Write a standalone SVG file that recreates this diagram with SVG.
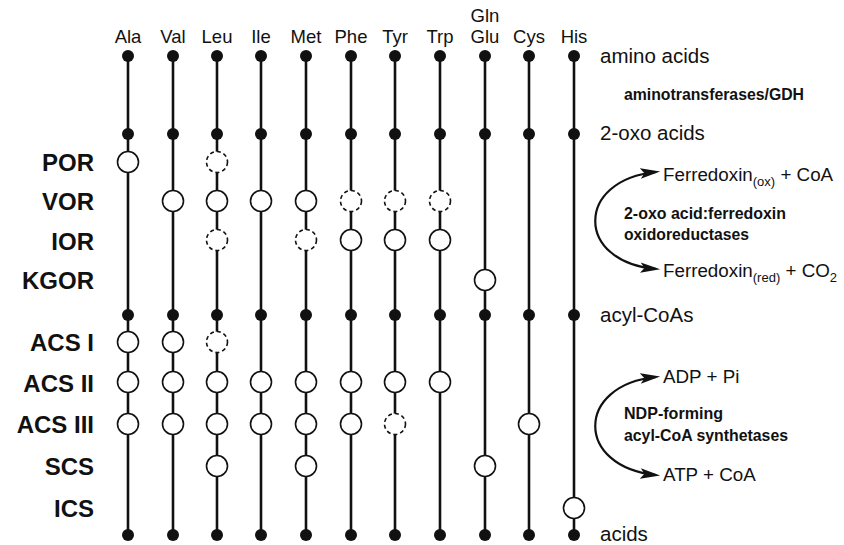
<svg xmlns="http://www.w3.org/2000/svg" width="844" height="545" viewBox="0 0 844 545">
<style>
text{font-family:"Liberation Sans",Arial,sans-serif;fill:#111}
.aa{font-size:18.5px;text-anchor:middle}
.enz{font-size:24px;font-weight:bold;text-anchor:end}
.st{font-size:20.5px}
.rx{font-size:18.8px}
.sub{font-size:13px}
.bd{font-size:17px;font-weight:bold}
.ln{stroke:#111;stroke-width:2.6;fill:none}
.dot{fill:#111}
.c{fill:#fff;stroke:#111;stroke-width:1.6}
.d{fill:#fff;stroke:#111;stroke-width:1.6;stroke-dasharray:4 3}
.arc{stroke:#111;stroke-width:2.2;fill:none;marker-start:url(#ah);marker-end:url(#ah)}
</style>
<defs>
<marker id="ah" markerUnits="userSpaceOnUse" markerWidth="20" markerHeight="12" refX="15" refY="5" orient="auto-start-reverse" viewBox="0 0 19 10">
<path d="M0,0 L19,5 L0,10 L4,5 z" fill="#111"/>
</marker>
</defs>

<g id="column-labels">
<text class="aa" x="128" y="43">Ala</text>
<text class="aa" x="173" y="43">Val</text>
<text class="aa" x="217" y="43">Leu</text>
<text class="aa" x="261" y="43">Ile</text>
<text class="aa" x="306" y="43">Met</text>
<text class="aa" x="351" y="43">Phe</text>
<text class="aa" x="395" y="43">Tyr</text>
<text class="aa" x="440" y="43">Trp</text>
<text class="aa" x="485" y="22">Gln</text>
<text class="aa" x="485" y="43">Glu</text>
<text class="aa" x="529" y="43">Cys</text>
<text class="aa" x="574" y="43">His</text>
</g>

<g id="enzyme-labels">
<text class="enz" x="94" y="171">POR</text>
<text class="enz" x="94" y="210">VOR</text>
<text class="enz" x="94" y="250">IOR</text>
<text class="enz" x="94" y="289">KGOR</text>
<text class="enz" x="94" y="351">ACS I</text>
<text class="enz" x="94" y="392">ACS II</text>
<text class="enz" x="94" y="433">ACS III</text>
<text class="enz" x="94" y="475">SCS</text>
<text class="enz" x="94" y="517">ICS</text>
</g>

<g id="connectors">
<path class="ln" d="M128 56V535M173 56V535M217 56V535M261 56V535M306 56V535M351 56V535M395 56V535M440 56V535M485 56V535M529 56V535M574 56V535"/>
<path class="arc" d="M656 172 C575 180,575 262,656 269"/>
<path class="arc" d="M656 377 C575 385,575 467,656 475"/>
</g>

<g id="row-amino-acids">
<g class="dot">
<circle cx="128" cy="56" r="6"/><circle cx="173" cy="56" r="6"/><circle cx="217" cy="56" r="6"/><circle cx="261" cy="56" r="6"/><circle cx="306" cy="56" r="6"/><circle cx="351" cy="56" r="6"/><circle cx="395" cy="56" r="6"/><circle cx="440" cy="56" r="6"/><circle cx="485" cy="56" r="6"/><circle cx="529" cy="56" r="6"/><circle cx="574" cy="56" r="6"/>
</g>
<text class="st" x="600" y="63">amino acids</text>
</g>

<g id="row-oxo-acids">
<g class="dot">
<circle cx="128" cy="134" r="6"/><circle cx="173" cy="134" r="6"/><circle cx="217" cy="134" r="6"/><circle cx="261" cy="134" r="6"/><circle cx="306" cy="134" r="6"/><circle cx="351" cy="134" r="6"/><circle cx="395" cy="134" r="6"/><circle cx="440" cy="134" r="6"/><circle cx="485" cy="134" r="6"/><circle cx="529" cy="134" r="6"/><circle cx="574" cy="134" r="6"/>
</g>
<text class="st" x="600" y="140">2-oxo acids</text>
</g>

<g id="row-acyl-coas">
<g class="dot">
<circle cx="128" cy="315" r="6"/><circle cx="173" cy="315" r="6"/><circle cx="217" cy="315" r="6"/><circle cx="261" cy="315" r="6"/><circle cx="306" cy="315" r="6"/><circle cx="351" cy="315" r="6"/><circle cx="395" cy="315" r="6"/><circle cx="440" cy="315" r="6"/><circle cx="485" cy="315" r="6"/><circle cx="529" cy="315" r="6"/><circle cx="574" cy="315" r="6"/>
</g>
<text class="st" x="600" y="322">acyl-CoAs</text>
</g>

<g id="row-acids">
<g class="dot">
<circle cx="128" cy="535" r="6"/><circle cx="173" cy="535" r="6"/><circle cx="217" cy="535" r="6"/><circle cx="261" cy="535" r="6"/><circle cx="306" cy="535" r="6"/><circle cx="351" cy="535" r="6"/><circle cx="395" cy="535" r="6"/><circle cx="440" cy="535" r="6"/><circle cx="485" cy="535" r="6"/><circle cx="529" cy="535" r="6"/><circle cx="574" cy="535" r="6"/>
</g>
<text class="st" x="600" y="541">acids</text>
</g>

<g id="POR"><circle class="c" cx="128" cy="162" r="10.5"/><circle class="d" cx="217" cy="162" r="10.5"/></g>
<g id="VOR"><circle class="c" cx="173" cy="201" r="10.5"/><circle class="c" cx="217" cy="201" r="10.5"/><circle class="c" cx="261" cy="201" r="10.5"/><circle class="c" cx="306" cy="201" r="10.5"/><circle class="d" cx="351" cy="201" r="10.5"/><circle class="d" cx="395" cy="201" r="10.5"/><circle class="d" cx="440" cy="201" r="10.5"/></g>
<g id="IOR"><circle class="d" cx="217" cy="240" r="10.5"/><circle class="d" cx="306" cy="240" r="10.5"/><circle class="c" cx="351" cy="240" r="10.5"/><circle class="c" cx="395" cy="240" r="10.5"/><circle class="c" cx="440" cy="240" r="10.5"/></g>
<g id="KGOR"><circle class="c" cx="485" cy="280" r="10.5"/></g>
<g id="ACSI"><circle class="c" cx="128" cy="342" r="10.5"/><circle class="c" cx="173" cy="342" r="10.5"/><circle class="d" cx="217" cy="342" r="10.5"/></g>
<g id="ACSII"><circle class="c" cx="128" cy="382" r="10.5"/><circle class="c" cx="173" cy="382" r="10.5"/><circle class="c" cx="217" cy="382" r="10.5"/><circle class="c" cx="261" cy="382" r="10.5"/><circle class="c" cx="306" cy="382" r="10.5"/><circle class="c" cx="351" cy="382" r="10.5"/><circle class="c" cx="395" cy="382" r="10.5"/><circle class="c" cx="440" cy="382" r="10.5"/></g>
<g id="ACSIII"><circle class="c" cx="128" cy="424" r="10.5"/><circle class="c" cx="173" cy="424" r="10.5"/><circle class="c" cx="217" cy="424" r="10.5"/><circle class="c" cx="261" cy="424" r="10.5"/><circle class="c" cx="306" cy="424" r="10.5"/><circle class="c" cx="351" cy="424" r="10.5"/><circle class="d" cx="395" cy="424" r="10.5"/><circle class="c" cx="529" cy="424" r="10.5"/></g>
<g id="SCS"><circle class="c" cx="217" cy="466" r="10.5"/><circle class="c" cx="306" cy="466" r="10.5"/><circle class="c" cx="485" cy="466" r="10.5"/></g>
<g id="ICS"><circle class="c" cx="574" cy="508" r="10.5"/></g>

<g id="oxidoreductase-reaction">
<text class="bd" x="624" y="100" textLength="180" lengthAdjust="spacingAndGlyphs">aminotransferases/GDH</text>
<text class="rx" x="663" y="181">Ferredoxin<tspan class="sub" dy="5">(ox)</tspan><tspan dy="-5"> + CoA</tspan></text>
<text class="bd" x="624" y="219" textLength="162" lengthAdjust="spacingAndGlyphs">2-oxo acid:ferredoxin</text>
<text class="bd" x="624" y="240" textLength="125" lengthAdjust="spacingAndGlyphs">oxidoreductases</text>
<text class="rx" x="663" y="277">Ferredoxin<tspan class="sub" dy="5">(red)</tspan><tspan dy="-5"> + CO</tspan><tspan class="sub" dy="5">2</tspan></text>
</g>

<g id="synthetase-reaction">
<text class="rx" x="663" y="383">ADP + Pi</text>
<text class="bd" x="624" y="419" textLength="99" lengthAdjust="spacingAndGlyphs">NDP-forming</text>
<text class="bd" x="624" y="441" textLength="164" lengthAdjust="spacingAndGlyphs">acyl-CoA synthetases</text>
<text class="rx" x="663" y="481">ATP + CoA</text>
</g>
</svg>
